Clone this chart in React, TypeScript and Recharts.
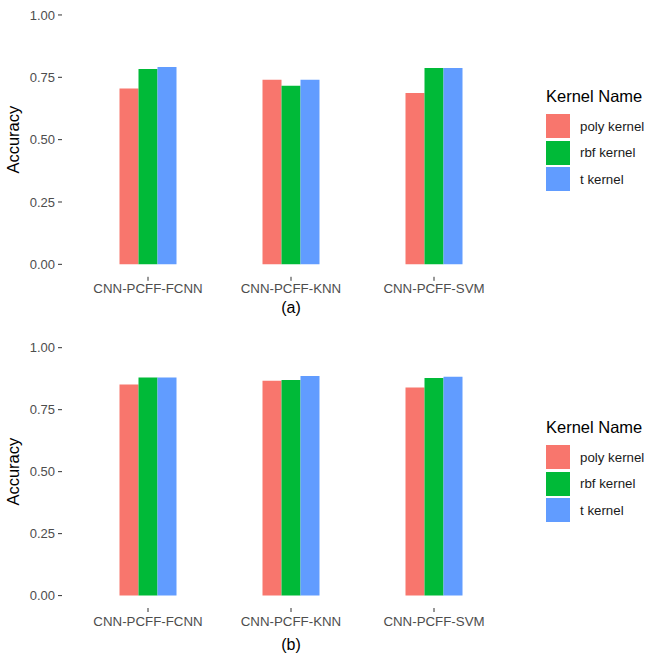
import { BarChart, Bar, XAxis, YAxis, Legend } from "recharts";

const models = ["CNN-PCFF-FCNN", "CNN-PCFF-KNN", "CNN-PCFF-SVM"];
const kernels = ["poly kernel", "rbf kernel", "t kernel"];
const kernelColors = ["#F8766D", "#00BA38", "#619CFF"];
const yTicks = [0, 0.25, 0.5, 0.75, 1];

// panel (a)
const polyA = [0.705, 0.74, 0.687];
const rbfA = [0.783, 0.716, 0.787];
const tA = [0.791, 0.74, 0.787];

// panel (b)
const polyB = [0.852, 0.867, 0.839];
const rbfB = [0.88, 0.87, 0.878];
const tB = [0.88, 0.886, 0.883];

const FONT = '"Liberation Sans", Arial, sans-serif';
const GREY = "#4D4D4D";

const buildRows = (poly: number[], rbf: number[], t: number[]) =>
  models.map((m, i) => ({ model: m, poly: poly[i], rbf: rbf[i], t: t[i] }));

/** ggplot-like discrete legend with a title */
const KernelLegend = () => (
  <div style={{ fontFamily: FONT, color: "#000" }}>
    <div style={{ fontSize: 16.5, lineHeight: "18px", marginBottom: 8 }}>Kernel Name</div>
    {kernels.map((k, i) => (
      <div key={k} style={{ display: "flex", alignItems: "center", height: 26.5 }}>
        <div style={{ width: 24, height: 24, background: kernelColors[i] }} />
        <span style={{ marginLeft: 10, fontSize: 13.3, color: "#1a1a1a" }}>{k}</span>
      </div>
    ))}
  </div>
);

type PanelProps = {
  rows: ReturnType<typeof buildRows>;
  caption: string;
  height: number;
  top: number;
  bottom: number;
  xHeight: number;
  tickGap: number;
  legendTop: number;
};

function Panel({ rows, caption, height, top, bottom, xHeight, tickGap, legendTop }: PanelProps) {
  return (
    <BarChart
      width={661}
      height={height}
      data={rows}
      margin={{ top, right: 141, left: 0, bottom }}
      barGap={0}
      barSize={19}
    >
      <XAxis
        dataKey="model"
        padding={{ left: 14.5, right: 14.5 }}
        axisLine={false}
        tickSize={4}
        tickMargin={tickGap}
        tickLine={{ stroke: "#333333" }}
        tick={{ fill: GREY, fontSize: 13.3, fontFamily: FONT }}
        height={xHeight}
        label={{
          value: caption,
          position: "insideBottom",
          offset: 0,
          style: { fill: "#000", fontSize: 16, fontFamily: FONT },
        }}
      />
      <YAxis
        width={62}
        domain={[-0.05, 1.05]}
        ticks={yTicks}
        allowDataOverflow
        axisLine={false}
        tickSize={4}
        tickMargin={3}
        tickLine={{ stroke: "#333333" }}
        tickFormatter={(v: number) => v.toFixed(2)}
        tick={{ fill: GREY, fontSize: 13, fontFamily: FONT }}
        label={{
          value: "Accuracy",
          angle: -90,
          position: "insideLeft",
          offset: 13,
          style: { textAnchor: "middle", fill: "#000", fontSize: 16.5, fontFamily: FONT },
        }}
      />
      <Legend
        layout="vertical"
        align="center"
        verticalAlign="middle"
        wrapperStyle={{ left: 546, top: legendTop, width: 115 }}
        content={() => <KernelLegend />}
      />
      <Bar dataKey="poly" name={kernels[0]} fill={kernelColors[0]} isAnimationActive={false} />
      <Bar dataKey="rbf" name={kernels[1]} fill={kernelColors[1]} isAnimationActive={false} />
      <Bar dataKey="t" name={kernels[2]} fill={kernelColors[2]} isAnimationActive={false} />
    </BarChart>
  );
}

export default function App() {
  return (
    <div style={{ position: "absolute", left: 0, top: 0, width: 661, height: 657, background: "#fff" }}>
      <div style={{ position: "absolute", left: 0, top: 0 }}>
        <Panel
          rows={buildRows(polyA, rbfA, tA)}
          caption="(a)"
          height={318}
          top={2.5}
          bottom={5.2}
          xHeight={36}
          tickGap={3}
          legendTop={87}
        />
      </div>
      <div style={{ position: "absolute", left: 0, top: 320 }}>
        <Panel
          rows={buildRows(polyB, rbfB, tB)}
          caption="(b)"
          height={337}
          top={15.3}
          bottom={7}
          xHeight={42}
          tickGap={5}
          legendTop={98}
        />
      </div>
    </div>
  );
}
